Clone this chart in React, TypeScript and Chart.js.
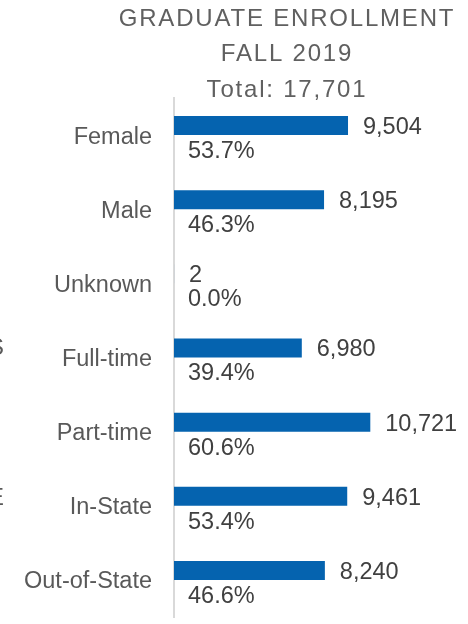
import React, { useEffect, useRef } from "react";
import { Chart, registerables } from "chart.js";

Chart.register(...registerables);

const categories = ["Female", "Male", "Unknown", "Full-time", "Part-time", "In-State", "Out-of-State"];
const counts = [9504, 8195, 2, 6980, 10721, 9461, 8240];
const percents = [53.7, 46.3, 0.0, 39.4, 60.6, 53.4, 46.6];
const titleLines = ["GRADUATE ENROLLMENT", "FALL 2019", "Total: 17,701"];
const sideLabels = [
  { text: "STATUS", y: 355 },
  { text: "RESIDENCE", y: 505 },
];

const FONT = "'Liberation Sans', Arial, sans-serif";

const labelPlugin = {
  id: "labelPlugin",
  afterDatasetsDraw(chart: any) {
    const ctx = chart.ctx;
    const meta = chart.getDatasetMeta(0);
    const left = chart.chartArea.left;
    ctx.save();
    ctx.font = `23.5px ${FONT}`;
    ctx.textAlign = "left";
    ctx.textBaseline = "middle";
    ctx.fillStyle = "#404040";
    meta.data.forEach((el: any, i: number) => {
      ctx.fillText(counts[i].toLocaleString("en-US"), el.x + 15, el.y + 2);
      ctx.fillText(percents[i].toFixed(1) + "%", left + 14, el.y + 26);
    });
    ctx.restore();
  },
  afterDraw(chart: any) {
    const ctx = chart.ctx;
    ctx.save();
    ctx.font = `24px ${FONT}`;
    ctx.fillStyle = "#606060";
    ctx.textAlign = "center";
    ctx.textBaseline = "alphabetic";
    (ctx as any).letterSpacing = "1.8px";
    const ys = [26, 61, 97];
    titleLines.forEach((t, i) => ctx.fillText(t, 287, ys[i]));
    (ctx as any).letterSpacing = "0px";
    ctx.font = `23.5px ${FONT}`;
    ctx.textAlign = "right";
    ctx.fillStyle = "#595959";
    sideLabels.forEach((s) => ctx.fillText(s.text, 4, s.y));
    ctx.restore();
  },
};

export default function App() {
  const ref = useRef<HTMLCanvasElement>(null);
  useEffect(() => {
    if (!ref.current) return;
    const chart = new Chart(ref.current, {
      type: "bar",
      data: {
        labels: categories,
        datasets: [
          {
            data: counts,
            backgroundColor: "#0563AF",
            categoryPercentage: 0.513,
            barPercentage: 1,
            xAxisID: "x",
          },
          {
            data: percents,
            backgroundColor: "rgba(0,0,0,0)",
            categoryPercentage: 0.513,
            barPercentage: 1,
            xAxisID: "x2",
          },
        ],
      },
      options: {
        indexAxis: "y",
        responsive: false,
        devicePixelRatio: 1,
        animation: false,
        layout: { padding: { top: 98, bottom: 7, right: 8, left: 0 } },
        plugins: {
          legend: { display: false },
          tooltip: { enabled: false },
          title: { display: false },
        },
        scales: {
          x: { display: false, min: 0, max: 15620 },
          x2: { display: false, min: 0, max: 100 },
          y: {
            afterFit: (s: any) => {
              s.width = 174;
              s.paddingTop = 0;
              s.paddingBottom = 0;
            },
            grid: { display: false, drawTicks: false },
            border: { display: true, color: "#d9d9d9", width: 2 },
            ticks: {
              padding: 22,
              labelOffset: 2,
              color: "#595959",
              font: { size: 23.5, family: FONT },
              autoSkip: false,
            },
          },
        },
      },
      plugins: [labelPlugin],
    } as any);
    return () => chart.destroy();
  }, []);
  return (
    <div style={{ position: "fixed", left: 0, top: 0, width: 468, height: 624 }}>
      <canvas ref={ref} width={468} height={624} style={{ width: 468, height: 624, display: "block" }} />
    </div>
  );
}
